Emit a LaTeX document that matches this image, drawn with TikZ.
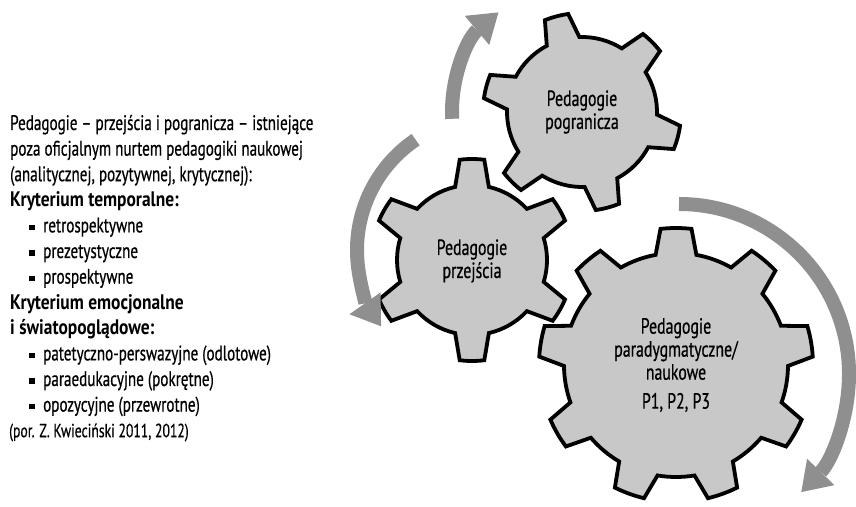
\documentclass[tikz,border=0pt]{standalone}
\usepackage{fontspec}
\setmainfont{PT Sans}[FakeStretch=0.72, FakeBold=0.6]
\newfontfamily\boldcond{PT Sans Bold}[FakeStretch=0.83]
\usetikzlibrary{arrows.meta}
\definecolor{gearfill}{RGB}{200,200,200}
\definecolor{arrowgray}{RGB}{143,143,143}
\tikzset{
  gearstyle/.style={fill=gearfill, draw=black, line width=3.8pt, line join=miter},
  rotarrow/.style={draw=arrowgray, line width=14pt, line cap=butt,
    -{Triangle[length=28pt,width=38pt,line width=0pt]}},
  geartext/.style={align=center, font=\fontsize{22}{23}\selectfont, inner sep=0pt},
  lefttext/.style={anchor=base west, inner sep=0pt, font=\fontsize{21}{24}\selectfont},
  boldtext/.style={lefttext, font=\fontsize{21}{24}\boldcond},
  bulletsq/.style={fill=black, inner sep=0pt, minimum size=5.5pt, draw=none}
}
\newcommand{\mygear}[8]{% cx, cy, n, offset, Rt, Rr, tau, beta
  \pgfmathsetmacro\gp{360/#3}
  \filldraw[gearstyle, shift={(#1,#2)}] ({#4-#8}:#6)
    \foreach \k in {1,...,#3}{
      -- ({#4+(\k-1)*\gp-#8}:#6) -- ({#4+(\k-1)*\gp-#7}:#5)
      arc[start angle={#4+(\k-1)*\gp-#7}, end angle={#4+(\k-1)*\gp+#7}, radius=#5]
      -- ({#4+(\k-1)*\gp+#8}:#6)
      arc[start angle={#4+(\k-1)*\gp+#8}, end angle={#4+\k*\gp-#8}, radius=#6]
    } -- cycle;
}
\begin{document}
\begin{tikzpicture}[x=1pt,y=1pt]
\useasboundingbox (0,0) rectangle (856,506);
% gear centres
\coordinate (c1) at (582,394);
\coordinate (c2) at (472,246);
\coordinate (c3) at (676,141);
% gears
\mygear{582}{394}{6}{45}{99}{75}{7}{13}
\mygear{472}{246}{6}{30}{101}{75}{7}{13}
\mygear{676}{141}{9}{90}{137}{112}{6.5}{10.5}
% gear labels
\node[geartext] (g1) at (c1) {Pedagogie\\pogranicza};
\node[geartext] (g2) at ([yshift=-1pt]c2) {Pedagogie\\przejścia};
\node[geartext] (g3) at (c3) {Pedagogie\\paradygmatyczne/\\naukowe\\[6pt]P1, P2, P3};
% rotation arrows
\path (c1) ++(183:130) coordinate (a1s);
\draw[rotarrow] (a1s) arc[start angle=183, end angle=130, radius=130];
\coordinate (c2a) at (490,256);
\path (c2a) ++(124:133) coordinate (a2s);
\draw[rotarrow] (a2s) arc[start angle=124, end angle=215, radius=133];
\coordinate (c3a) at (679,132);
\path (c3a) ++(90:170) coordinate (a3s);
\draw[rotarrow] (a3s) arc[start angle=90, end angle=-44, radius=170];
% left text
\node[lefttext] (t0) at (10,376) {Pedagogie – przejścia i pogranicza – istniejące};
\node[lefttext] (t1) at (10,350.4) {poza oficjalnym nurtem pedagogiki naukowej};
\node[lefttext] (t2) at (10,324.8) {(analitycznej, pozytywnej, krytycznej):};
\node[boldtext] (t3) at (10,299.2) {Kryterium temporalne:};
\node[bulletsq] (b4) at (32,278.6) {};
\node[lefttext] (t4) at (43,273.6) {retrospektywne};
\node[bulletsq] (b5) at (32,253) {};
\node[lefttext] (t5) at (43,248) {prezetystyczne};
\node[bulletsq] (b6) at (32,227.4) {};
\node[lefttext] (t6) at (43,222.4) {prospektywne};
\node[boldtext] (t7) at (10,196.8) {Kryterium emocjonalne};
\node[boldtext] (t8) at (10,171.2) {i światopoglądowe:};
\node[bulletsq] (b9) at (32,150.6) {};
\node[lefttext] (t9) at (43,145.6) {patetyczno-perswazyjne (odlotowe)};
\node[bulletsq] (b10) at (32,125) {};
\node[lefttext] (t10) at (43,120) {paraedukacyjne (pokrętne)};
\node[bulletsq] (b11) at (32,99.4) {};
\node[lefttext] (t11) at (43,94.4) {opozycyjne (przewrotne)};
\node[lefttext, font=\fontsize{19}{22}\selectfont] (t12) at (9,68.8) {(por. Z. Kwieciński 2011, 2012)};
\end{tikzpicture}
\end{document}
